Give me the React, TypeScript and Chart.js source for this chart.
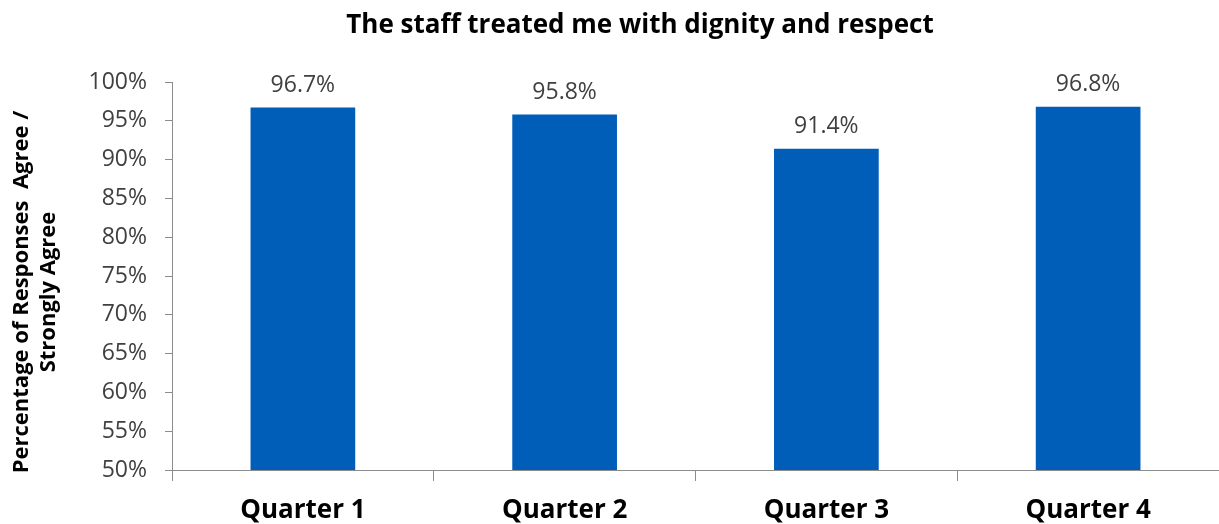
import React, { useEffect, useRef } from "react";
import { Chart, registerables } from "chart.js";

Chart.register(...registerables);

const chartTitle = "The staff treated me with dignity and respect";
const yTitleLines = ["Percentage of Responses  Agree /", "Strongly Agree"];
const categories = ["Quarter 1", "Quarter 2", "Quarter 3", "Quarter 4"];
const values = [96.7, 95.8, 91.4, 96.8];
const yMin = 50;
const yMax = 100;
const yStep = 5;

const FONT = "'Open Sans', 'Noto Sans', sans-serif";
const AXIS_COLOR = "#8c8c8c";
const TEXT_GRAY = "#404040";
const BAR_COLOR = "#005eb8";

const overlayPlugin = {
  id: "overlay",
  afterDatasetsDraw(chart: any) {
    const ctx = chart.ctx;
    ctx.save();
    // data labels
    const meta = chart.getDatasetMeta(0);
    ctx.font = `23px ${FONT}`;
    ctx.fillStyle = TEXT_GRAY;
    ctx.textAlign = "center";
    ctx.textBaseline = "bottom";
    meta.data.forEach((el: any, i: number) => {
      ctx.fillText(values[i].toFixed(1) + "%", el.x, el.y - 11);
    });
    // title
    ctx.font = `bold 26px ${FONT}`;
    ctx.fillStyle = "#000000";
    ctx.textBaseline = "middle";
    ctx.fillText(chartTitle, 640, 26);
    // y axis title
    ctx.font = `bold 22px ${FONT}`;
    ctx.translate(0, 292);
    ctx.rotate(-Math.PI / 2);
    ctx.fillText(yTitleLines[0], 0, 22);
    ctx.fillText(yTitleLines[1], 0, 49);
    ctx.restore();
  },
};

export default function App() {
  const ref = useRef<HTMLCanvasElement | null>(null);
  useEffect(() => {
    document.body.style.margin = "0";
    if (!ref.current) return;
    const chart = new Chart(ref.current, {
      type: "bar",
      data: {
        labels: categories,
        datasets: [
          {
            data: values,
            backgroundColor: BAR_COLOR,
            borderWidth: 0,
            categoryPercentage: 1,
            barPercentage: 0.4,
          },
        ],
      },
      options: {
        responsive: false,
        animation: false,
        layout: { padding: { top: 82, left: 0, right: -3, bottom: 0 } },
        plugins: {
          legend: { display: false },
          title: { display: false },
          tooltip: { enabled: false },
        },
        scales: {
          x: {
            offset: true,
            grid: {
              offset: true,
              drawOnChartArea: false,
              drawTicks: true,
              tickLength: 11,
              color: AXIS_COLOR,
            },
            border: { color: AXIS_COLOR, width: 1 },
            ticks: {
              color: "#000000",
              padding: 14,
              font: { family: FONT, size: 26, weight: "bold" },
            },
            afterFit(scale: any) {
              scale.height = 54;
            },
          },
          y: {
            min: yMin,
            max: yMax,
            grid: {
              drawOnChartArea: false,
              tickLength: 7,
              color: AXIS_COLOR,
            },
            border: { color: AXIS_COLOR, width: 1 },
            ticks: {
              stepSize: yStep,
              color: TEXT_GRAY,
              padding: 18,
              font: { family: FONT, size: 23 },
              callback: (v: any) => v + "%",
            },
            afterFit(scale: any) {
              scale.width = 172;
            },
          },
        },
      },
      plugins: [overlayPlugin],
    });
    return () => chart.destroy();
  }, []);
  return (
    <div style={{ position: "relative", width: 1219, height: 524 }}>
      <canvas ref={ref} width={1219} height={524} />
    </div>
  );
}
